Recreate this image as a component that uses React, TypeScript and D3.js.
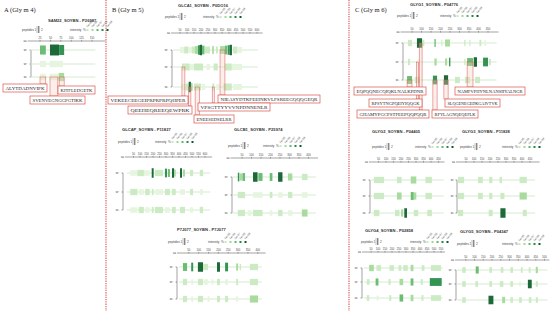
import React from "react";
import * as d3 from "d3";

type Seg = [number, number, number];

// ---------- text ----------
const sectionTitles = ["A (Gly m 4)", "B (Gly m 5)", "C (Gly m 6)"];
const proteinTitles = [
  "SAM22_SOYBN - P26987",
  "GLCA1_SOYBN - P0DO16",
  "GLCAP_SOYBN - P11827",
  "GLCB1_SOYBN - P25974",
  "P7J077_SOYBN - P7J077",
  "GLYG1_SOYBN - P04776",
  "GLYG2_SOYBN - P04405",
  "GLYG3_SOYBN - P11828",
  "GLYG4_SOYBN - P02858",
  "GLYG5_SOYBN - P04347",
];
const sampleLabels = ["w¹", "w²", "w³"];
const intensityLabels = ["1e+05", "1e+06", "1e+07", "1e+08", "1e+09"];

// ---------- tick labels ----------
const ticksA = [25, 50, 75, 100, 125, 150];
const ticks400 = [50, 100, 150, 200, 250, 300, 350, 400];
const ticks450 = [50, 100, 150, 200, 250, 300, 350, 400, 450];
const ticks500 = [50, 100, 150, 200, 250, 300, 350, 400, 450, 500];
const ticks550 = [50, 100, 150, 200, 250, 300, 350, 400, 450, 500, 550];
const ticks600 = [50, 100, 150, 200, 250, 300, 350, 400, 450, 500, 550, 600];

// ---------- peptide coverage: [start, end, intensity level 0..5] ----------
const sam22W1: Seg[] = [[25, 39, 3], [49, 71, 5], [71, 83, 4]];
const sam22W2: Seg[] = [[25, 39, 0], [48, 80, 0]];
const sam22W3: Seg[] = [[25, 39, 0], [48, 70, 0], [70, 83, 2]];

const glca1W1: Seg[] = [[50, 80, 0], [80, 110, 1], [110, 135, 0], [135, 157, 1], [157, 179, 2], [179, 193, 4], [193, 207, 5], [207, 225, 3], [229, 264, 1], [280, 292, 2], [307, 321, 1], [336, 371, 2], [371, 386, 3], [390, 405, 4], [405, 421, 5], [429, 460, 1], [460, 493, 0]];
const glca1W2: Seg[] = [[64, 85, 1], [85, 120, 1], [120, 150, 0], [150, 215, 1], [240, 265, 0], [290, 320, 1], [370, 420, 1], [420, 493, 0]];
const glca1W3: Seg[] = [[60, 90, 0], [90, 112, 1], [112, 128, 5], [128, 140, 2], [150, 200, 1], [205, 230, 0], [280, 295, 1], [310, 330, 0], [360, 420, 1], [430, 493, 0]];

const glcapW1: Seg[] = [[25, 80, 0], [80, 130, 1], [130, 175, 0], [190, 205, 5], [215, 277, 1], [292, 308, 4], [315, 330, 3], [346, 362, 5], [362, 375, 2], [408, 423, 5], [430, 446, 2], [485, 508, 1], [560, 585, 1]];
const glcapW2: Seg[] = [[25, 80, 1], [90, 130, 0], [140, 175, 1], [190, 205, 1], [215, 277, 0], [292, 330, 1], [346, 375, 1], [408, 446, 0], [485, 508, 1], [560, 585, 0]];
const glcapW3: Seg[] = [[25, 80, 0], [90, 130, 1], [140, 175, 0], [190, 205, 1], [215, 277, 1], [292, 330, 0], [346, 375, 1], [408, 446, 1], [485, 508, 0], [560, 585, 1]];

const glcb1W1: Seg[] = [[28, 36, 4], [38, 50, 2], [52, 66, 3], [108, 132, 5], [136, 158, 3], [196, 210, 3], [240, 263, 5], [292, 315, 2], [365, 395, 1]];
const glcb1W2: Seg[] = [[28, 66, 1], [108, 158, 0], [196, 210, 1], [240, 263, 0], [292, 315, 1], [365, 395, 0]];
const glcb1W3: Seg[] = [[28, 66, 1], [80, 100, 0], [108, 158, 1], [196, 210, 0], [240, 263, 1], [292, 315, 0], [365, 395, 2]];

const p7W1: Seg[] = [[20, 41, 3], [62, 72, 4], [96, 122, 5], [122, 147, 1], [193, 208, 5], [234, 249, 4], [290, 300, 2], [308, 315, 1], [360, 401, 1]];
const p7W2: Seg[] = [[20, 41, 1], [62, 72, 0], [96, 122, 1], [128, 147, 0], [165, 175, 0], [193, 208, 1], [234, 249, 0], [290, 300, 1], [360, 401, 1]];
const p7W3: Seg[] = [[20, 41, 1], [62, 72, 0], [96, 122, 1], [145, 155, 0], [193, 208, 1], [234, 249, 1], [290, 300, 0], [360, 401, 2]];

const glyg1W1: Seg[] = [[29, 50, 1], [76, 103, 5], [103, 115, 1], [168, 175, 3], [205, 210, 1], [224, 250, 2], [325, 332, 1], [352, 358, 1], [405, 415, 1], [430, 440, 0]];
const glyg1W2: Seg[] = [[29, 40, 1], [80, 88, 0], [168, 180, 2], [224, 235, 2], [245, 252, 4], [325, 332, 1], [340, 371, 3], [375, 392, 5], [424, 450, 4], [455, 465, 1]];
const glyg1W3: Seg[] = [[24, 50, 3], [65, 92, 1], [160, 182, 4], [218, 240, 5], [276, 302, 1], [329, 355, 1], [382, 408, 1]];

const glyg2W1: Seg[] = [[19, 87, 1], [173, 204, 1], [265, 302, 2], [363, 406, 1]];
const glyg2W2: Seg[] = [[19, 87, 1], [173, 204, 2], [265, 285, 3], [285, 302, 2], [363, 406, 1]];
const glyg2W3: Seg[] = [[19, 56, 1], [160, 190, 1], [200, 215, 2], [222, 240, 5], [285, 315, 1], [375, 406, 1]];

const glyg3W1: Seg[] = [[0, 38, 1], [125, 155, 1], [195, 215, 1], [260, 275, 1], [385, 430, 1]];
const glyg3W2: Seg[] = [[0, 38, 1], [125, 155, 1], [195, 215, 1], [265, 290, 1], [385, 430, 2]];
const glyg3W3: Seg[] = [[0, 32, 1], [192, 217, 1], [265, 297, 5], [405, 430, 1]];

const glyg4W1: Seg[] = [[37, 70, 2], [89, 122, 1], [182, 214, 1], [247, 267, 1], [280, 313, 1], [333, 353, 2], [412, 432, 1], [478, 550, 1]];
const glyg4W2: Seg[] = [[20, 40, 1], [83, 103, 3], [175, 190, 1], [254, 280, 2], [333, 353, 3], [405, 420, 1], [470, 555, 4]];
const glyg4W3: Seg[] = [[20, 37, 1], [90, 105, 0], [180, 195, 1], [254, 280, 3], [333, 353, 2], [410, 425, 1], [478, 550, 1]];

const glyg5W1: Seg[] = [[30, 50, 1], [107, 124, 3], [185, 200, 1], [250, 265, 1], [305, 320, 1], [365, 375, 1], [410, 420, 1], [450, 462, 2]];
const glyg5W2: Seg[] = [[30, 50, 1], [105, 120, 1], [185, 200, 1], [245, 265, 1], [305, 320, 1], [355, 365, 0], [405, 427, 5], [450, 462, 1]];
const glyg5W3: Seg[] = [[30, 50, 1], [180, 208, 5], [258, 275, 2], [305, 320, 1], [355, 370, 1], [410, 425, 1], [450, 462, 1]];

const proteinLengths = [158, 605, 639, 439, 420, 495, 485, 481, 562, 516];
const axisMaxima = [182, 640, 655, 450, 440, 505, 490, 510, 578, 528];
const proteinTicks = [ticksA, ticks600, ticks600, ticks400, ticks400, ticks450, ticks450, ticks450, ticks550, ticks500];
const proteinTracks: Seg[][][] = [
  [sam22W1, sam22W2, sam22W3],
  [glca1W1, glca1W2, glca1W3],
  [glcapW1, glcapW2, glcapW3],
  [glcb1W1, glcb1W2, glcb1W3],
  [p7W1, p7W2, p7W3],
  [glyg1W1, glyg1W2, glyg1W3],
  [glyg2W1, glyg2W2, glyg2W3],
  [glyg3W1, glyg3W2, glyg3W3],
  [glyg4W1, glyg4W2, glyg4W3],
  [glyg5W1, glyg5W2, glyg5W3],
];

// ---------- highlighted peptides ----------
const peptideSeqs = [
  "ALYTDADNVIPK", "KITFLEDGETK", "SVENVEGNGGPGTIKK",
  "VEKEECEEGEIPRPRPRPQHPER", "QEEHEQREEQEWPRK", "NIEASYDTKFEEINKVLFSREEGQQQGEQR", "VPSGTTYYVVNPDNNENLR", "ENEESEDSELRR",
  "EQPQQNECQIQKLNALKPDNR", "NAMFVPHYNLNANSIIYALNGR", "RPSYTNGPQEIYIQQGK", "SLQGENEGEDKGAIVTVK", "GHAMYPGCPSTFEEPQQPQQR", "RFYLAGNQEQEFLK",
];
// [panel, track, start, end]
const peptideSites = [
  [0, 2, 25, 39], [0, 2, 71, 83], [0, 2, 49, 68],
  [1, 1, 64, 85], [1, 2, 112, 128], [1, 0, 336, 371], [1, 2, 280, 292], [1, 2, 158, 190],
  [5, 2, 24, 50], [5, 1, 340, 371], [5, 1, 74, 84], [5, 2, 218, 240], [5, 0, 88, 103], [5, 2, 160, 182],
];

// ---------- layout (positions only) ----------
const panelLayout = [
  { tx: 48, ty: 22, lx: 22, ly: 31, ix: 70, ay: 41, x0: 29.6, s: 0.416, ys: [50, 64, 77], labelX: 27, bracketX: 31, hk: 1.15 },
  { tx: 178, ty: 7, lx: 165, ly: 18, ix: 203, ay: 33, x0: 173, s: 0.14, ys: [50, 67, 87], labelX: 168, bracketX: 172, hk: 1.1 },
  { tx: 122, ty: 131, lx: 118, ly: 143, ix: 155, ay: 157, x0: 127, s: 0.13, ys: [173, 192, 210], labelX: 119, bracketX: 123, hk: 1 },
  { tx: 234, ty: 131, lx: 228, ly: 147, ix: 263, ay: 158, x0: 232.5, s: 0.19, ys: [177, 195, 213], labelX: 228, bracketX: 232, hk: 1 },
  { tx: 177, ty: 231, lx: 168, ly: 243, ix: 208, ay: 253, x0: 179, s: 0.197, ys: [267, 282, 299], labelX: 173, bracketX: 177, hk: 1 },
  { tx: 410, ty: 6, lx: 397, ly: 17, ix: 440, ay: 32, x0: 402.5, s: 0.19, ys: [43, 62, 80], labelX: 399, bracketX: 403, hk: 1 },
  { tx: 372, ty: 133, lx: 372, ly: 148, ix: 415, ay: 162, x0: 371, s: 0.15, ys: [180, 196, 213], labelX: 366, bracketX: 370, hk: 1 },
  { tx: 462, ty: 133, lx: 460, ly: 148, ix: 502, ay: 162, x0: 458, s: 0.16, ys: [180, 196, 213], labelX: 454, bracketX: 457, hk: 1 },
  { tx: 365, ty: 232, lx: 361, ly: 243, ix: 410, ay: 252, x0: 364, s: 0.14, ys: [268, 282, 298], labelX: 358, bracketX: 362, hk: 0.9 },
  { tx: 460, ty: 233, lx: 457, ly: 245, ix: 502, ay: 260, x0: 457, s: 0.175, ys: [270, 284, 300], labelX: 452, bracketX: 456, hk: 0.9 },
];
const boxLayout = [
  [3, 84, 44], [58, 86, 37], [30, 96, 55],
  [108, 96, 80], [128, 106, 64], [218, 95, 102], [198, 103, 72], [194, 115, 40],
  [354, 87, 72], [455, 87, 70], [369, 99, 53], [445, 99, 55], [357, 110, 72], [432, 110, 46],
];
const sectionLayout = [[4, 12], [112, 12], [355, 12]];
const dividerX = [106, 349];

const levelColors = ["#e4f4dd", "#c8e9bf", "#a2d897", "#5fb768", "#238b45", "#0a5c28"];
const color = d3.scaleOrdinal<number, string>().domain([0, 1, 2, 3, 4, 5]).range(levelColors);
const barH = d3.scaleLinear().domain([0, 5]).range([5.5, 9.5]);
const RED = "#d9534f";

function xScale(i: number) {
  const L = panelLayout[i];
  return d3.scaleLinear().domain([0, axisMaxima[i]]).range([L.x0, L.x0 + L.s * axisMaxima[i]]);
}

function Panel({ i }: { i: number }) {
  const L = panelLayout[i];
  const x = xScale(i);
  const len = proteinLengths[i];
  return (
    <g fontFamily="Liberation Sans, Arial, sans-serif">
      <text x={L.tx} y={L.ty} fontSize={4.1} fontWeight={700} fill="#333">{proteinTitles[i]}</text>
      {/* legend */}
      <text x={L.lx} y={L.ly} fontSize={3.1} fill="#444">peptides</text>
      <text x={L.lx + 12.5} y={L.ly} fontSize={3.1} fill="#444">1</text>
      <line x1={L.lx + 15} x2={L.lx + 15} y1={L.ly - 5} y2={L.ly + 2} stroke="#555" strokeWidth={0.4} />
      <line x1={L.lx + 16.8} x2={L.lx + 16.8} y1={L.ly - 5} y2={L.ly + 2} stroke="#555" strokeWidth={1} />
      <text x={L.lx + 19} y={L.ly} fontSize={3.1} fill="#444">2</text>
      <text x={L.ix} y={L.ly} fontSize={3.1} fill="#444">intensity</text>
      <text x={L.ix + 13} y={L.ly} fontSize={3.1} fill="#444">%</text>
      {intensityLabels.map((lab, k) => {
        const cx = L.ix + 17.5 + k * 5;
        return (
          <g key={k}>
            <rect x={cx - 1} y={L.ly - 2} width={2} height={2} fill={color(k + 1)} />
            <text x={cx} y={L.ly - 3.5} fontSize={2.7} fill="#444" transform={`rotate(-50 ${cx} ${L.ly - 3.5})`}>{lab}</text>
          </g>
        );
      })}
      {/* axis */}
      <text x={x(0) - 3} y={L.ay + 1} fontSize={2.7} textAnchor="end" fill="#444">aa</text>
      <line x1={x(0) - 2} x2={x(axisMaxima[i])} y1={L.ay} y2={L.ay} stroke="#444" strokeWidth={0.5} />
      {proteinTicks[i].map((t) => (
        <g key={t}>
          <line x1={x(t)} x2={x(t)} y1={L.ay - 1.2} y2={L.ay + 0.6} stroke="#444" strokeWidth={0.4} />
          <text x={x(t)} y={L.ay - 1.8} fontSize={2.7} textAnchor="middle" fill="#444">{t}</text>
        </g>
      ))}
      {/* bracket + labels */}
      <line x1={L.bracketX} x2={L.bracketX} y1={L.ys[0]} y2={L.ys[2]} stroke="#444" strokeWidth={0.5} />
      {L.ys.map((y, k) => (
        <g key={k}>
          <line x1={L.bracketX - 1.5} x2={L.bracketX} y1={y} y2={y} stroke="#444" strokeWidth={0.5} />
          <text x={L.labelX} y={y + 1} fontSize={3.1} textAnchor="end" fill="#444">{sampleLabels[k]}</text>
        </g>
      ))}
      {/* tracks */}
      {proteinTracks[i].map((segs, k) => (
        <g key={k}>
          <line x1={x(0)} x2={x(len)} y1={L.ys[k]} y2={L.ys[k]} stroke="#cfe9c8" strokeWidth={0.9} />
          {segs.map(([a, b, lv], j) => {
            const h = barH(lv) * L.hk;
            return (
              <rect key={j} x={x(a)} y={L.ys[k] - h / 2} width={Math.max(0.8, x(b) - x(a))} height={h}
                fill={color(lv)} fillOpacity={0.92} />
            );
          })}
        </g>
      ))}
    </g>
  );
}

export default function App() {
  return (
    <svg width={550} height={311} viewBox="0 0 550 311"
      style={{ position: "absolute", left: 0, top: 0, background: "#fff", display: "block" }}>
      <rect x={0} y={0} width={550} height={311} fill="#fff" />
      {dividerX.map((dx) => (
        <line key={dx} x1={dx} x2={dx} y1={0} y2={311} stroke={RED} strokeWidth={1.1} strokeDasharray="1.3,1" />
      ))}
      {sectionTitles.map((t, k) => (
        <text key={t} x={sectionLayout[k][0]} y={sectionLayout[k][1]} fontSize={6.5}
          fontFamily="Liberation Serif, Times New Roman, serif" fill="#222">{t}</text>
      ))}
      {panelLayout.map((_, i) => <Panel key={i} i={i} />)}
      {/* connectors */}
      {peptideSites.map(([p, tr, a, b], k) => {
        const x = xScale(p);
        const L = panelLayout[p];
        const x1 = x(a), x2 = Math.max(x(b), x(a) + 2);
        const yTop = L.ys[tr];
        const yBot = boxLayout[k][1];
        return (
          <rect key={k} x={x1} y={yTop} width={x2 - x1} height={yBot - yTop}
            fill="#f7d2c4" fillOpacity={0.35} stroke={RED} strokeWidth={0.5} />
        );
      })}
      {/* peptide boxes */}
      {peptideSeqs.map((seq, k) => {
        const [bx, by, bw] = boxLayout[k];
        return (
          <g key={seq}>
            <rect x={bx} y={by} width={bw} height={8} fill="#fff" stroke={RED} strokeWidth={0.7} />
            <text x={bx + bw / 2} y={by + 5.8} fontSize={4.8} textAnchor="middle"
              fontFamily="Liberation Serif, Times New Roman, serif" fill="#222"
              textLength={bw - 5} lengthAdjust="spacingAndGlyphs">{seq}</text>
          </g>
        );
      })}
    </svg>
  );
}
